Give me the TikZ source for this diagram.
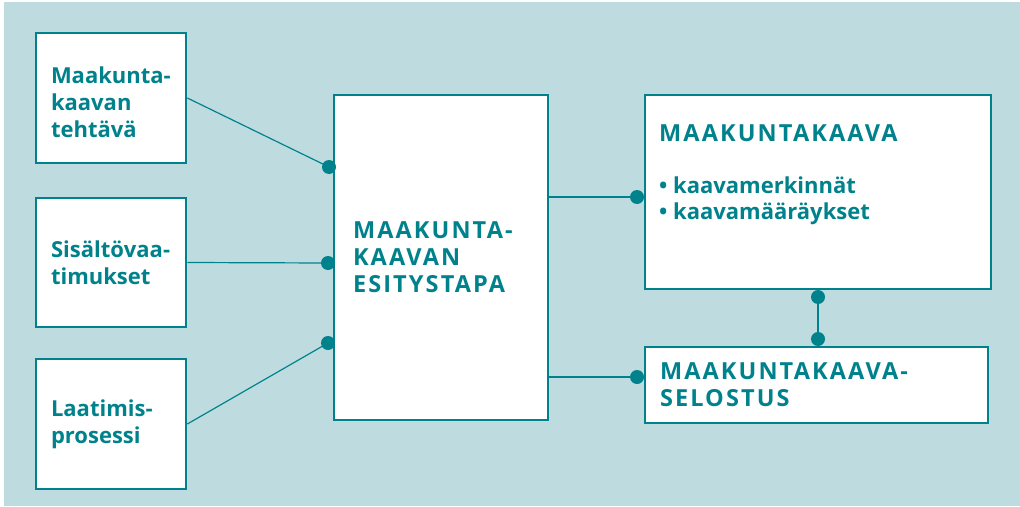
\documentclass[tikz,border=0pt]{standalone}
\usepackage{fontspec}
\setmainfont{Open Sans}
\newfontfamily\capsfont[LetterSpace=9]{Open Sans}
\newcommand\kaps{\capsfont\fontsize{23.5}{27}\selectfont}
\usetikzlibrary{positioning}
\definecolor{kaavateal}{RGB}{0,130,140}
\definecolor{kaavabg}{RGB}{190,220,224}
\tikzset{
  box/.style={draw=kaavateal, line width=2.7pt, fill=white, align=left,
    text=kaavateal, inner xsep=15pt, inner ysep=0pt,
    font=\fontsize{22}{27}\selectfont\bfseries},
  txt/.style={text=kaavateal, align=left, inner sep=0pt,
    font=\fontsize{22}{26}\selectfont\bfseries},
  link/.style={draw=kaavateal, line width=1.2pt},
  dot/.style={circle, fill=kaavateal, inner sep=0pt, minimum size=14pt}
}

\begin{document}
\begin{tikzpicture}[x=1pt, y=-1pt]
			%%%%% START %%%%%
			
			\fill[white] (0, 0) rectangle (1020, 506);
			\useasboundingbox (0, 0) rectangle (1020, 506);
			\fill[kaavabg] (4, 2) rectangle (1020, 506);
			
			\node[box, minimum width=150, minimum height=130, text width=120] (tehtava) at (111, 98) {\rule{0pt}{25pt}Maakunta-\\kaavan\\tehtävä};
			\node[box, minimum width=150, minimum height=129, text width=120] (sisalto) at (111, 262.5) {Sisältövaa-\\timukset};
			\node[box, minimum width=150, minimum height=130, text width=120] (laatimis) at (111, 424) {Laatimis-\\prosessi};
			
			\node[box, minimum width=214, minimum height=325, text width=176, inner xsep=19pt] (esitys) at (441, 257.5) {\kaps MAAKUNTA-\\KAAVAN\\ESITYSTAPA};
			
			\node[box, minimum width=346, minimum height=194] (kaava) at (818, 192) {};
			\node[txt, anchor=base west] (kaavaotsikko) at (659, 141) {\kaps MAAKUNTAKAAVA};
			\node[txt, anchor=north west] (kaavalista) at (659, 177) {• kaavamerkinnät\\• kaavamääräykset};
			
			\node[box, minimum width=343, minimum height=76, text width=313] (selostus) at (816.5, 385) {\kaps MAAKUNTAKAAVA-\\SELOSTUS};
			
			\node[dot] (d1) at (329, 167) {};
			\node[dot] (d2) at (328, 263) {};
			\node[dot] (d3) at (328, 343) {};
			\node[dot] (d4) at (637, 197) {};
			\node[dot] (d5) at (637, 377) {};
			\node[dot] (d6) at (818, 297) {};
			\node[dot] (d7) at (818, 339) {};
			
			\draw[link] (tehtava.east) -- (d1.center);
			\draw[link] (sisalto.east) -- (d2.center);
			\draw[link] (laatimis.east) -- (d3.center);
			\draw[link] (esitys.east |- d4) -- (d4.center);
			\draw[link] (esitys.east |- d5) -- (d5.center);
			\draw[link] (d6.center) -- (d7.center);
			
			%%%%% END %%%%%
\end{tikzpicture}
\end{document}
